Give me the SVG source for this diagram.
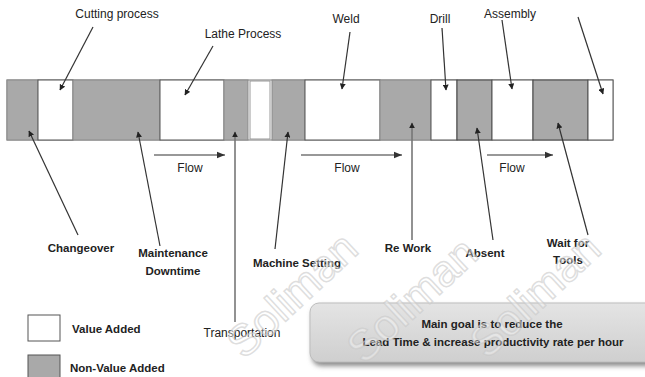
<svg xmlns="http://www.w3.org/2000/svg" width="645" height="377" viewBox="0 0 645 377">
<style>
.lbl{font-family:"Liberation Sans",Arial,sans-serif;font-size:12px;fill:#222}
.b{font-weight:bold;font-size:11.5px}
.va{fill:#ffffff;stroke:#555;stroke-width:1}
.val{fill:#ffffff;stroke:#999;stroke-width:1}
.nva{fill:#a9a9a9;stroke:#8a8a8a;stroke-width:1}
.nvd{fill:#a9a9a9;stroke:#444;stroke-width:1}
.ln{stroke:#333;stroke-width:1.2;fill:none}
.lg{stroke:#777;stroke-width:1.6;fill:none}
.wm{font-family:"Liberation Sans",Arial,sans-serif;font-size:44px;fill:#ffffff;fill-opacity:0.35;stroke:#c8c8c8;stroke-opacity:0.6;stroke-width:1.5}
</style>
<defs>
<marker id="ah" viewBox="0 0 10 10" refX="9" refY="5" markerWidth="6" markerHeight="6" markerUnits="userSpaceOnUse" orient="auto">
<path d="M0,0 L10,5 L0,10 z" fill="#222"/>
</marker>
<marker id="fa" viewBox="0 0 10 10" refX="10" refY="5" markerWidth="8" markerHeight="8" markerUnits="userSpaceOnUse" orient="auto">
<path d="M0,1 L10,5 L0,9 z" fill="#333"/>
</marker>
<linearGradient id="bg" x1="0" y1="0" x2="0" y2="1">
<stop offset="0" stop-color="#e4e4e4"/>
<stop offset="1" stop-color="#cfcfcf"/>
</linearGradient>
<filter id="sh" x="-10%" y="-20%" width="120%" height="150%">
<feGaussianBlur stdDeviation="2.5"/>
</filter>
</defs>

<g id="bar">
<rect x="7" y="80" width="606" height="60" fill="#fff" stroke="#777" stroke-width="1"/>
<rect class="nva" x="7" y="80" width="31" height="60"/>
<rect class="va" x="38" y="80" width="35" height="60"/>
<rect class="nva" x="73" y="80" width="87" height="60"/>
<rect class="va" x="160" y="80" width="64" height="60"/>
<rect class="nva" x="224" y="80" width="24" height="60"/>
<rect class="val" x="250" y="81" width="20" height="58"/>
<rect class="nva" x="272" y="80" width="33" height="60"/>
<rect class="va" x="305" y="80" width="75" height="60"/>
<rect class="nva" x="380" y="80" width="51" height="60"/>
<rect class="va" x="431" y="80" width="26" height="60"/>
<rect class="nvd" x="457" y="80" width="35" height="60"/>
<rect class="va" x="492" y="80" width="41" height="60"/>
<rect class="nvd" x="533" y="80" width="55" height="60"/>
<rect class="va" x="588" y="80" width="25" height="60"/>
</g>

<g id="connectors">
<line class="ln" x1="93" y1="27" x2="60" y2="90" marker-end="url(#ah)"/>
<line class="ln" x1="213" y1="46" x2="185" y2="95" marker-end="url(#ah)"/>
<line class="ln" x1="350" y1="32" x2="342" y2="89" marker-end="url(#ah)"/>
<line class="ln" x1="442" y1="28" x2="446" y2="90" marker-end="url(#ah)"/>
<line class="ln" x1="502" y1="20" x2="512" y2="89" marker-end="url(#ah)"/>
<line class="ln" x1="578" y1="17" x2="603" y2="94" marker-end="url(#ah)"/>
<line class="ln" x1="78" y1="235" x2="29" y2="131" marker-end="url(#ah)"/>
<line class="ln" x1="160" y1="246" x2="138" y2="132" marker-end="url(#ah)"/>
<line class="lg" x1="235" y1="322" x2="235" y2="132" marker-end="url(#ah)"/>
<line class="ln" x1="275" y1="249" x2="288" y2="132" marker-end="url(#ah)"/>
<line class="lg" x1="412" y1="240" x2="412" y2="123" marker-end="url(#ah)"/>
<line class="ln" x1="493" y1="240" x2="477" y2="128" marker-end="url(#ah)"/>
<line class="ln" x1="588" y1="235" x2="558" y2="123" marker-end="url(#ah)"/>
<line class="ln" x1="154" y1="155" x2="225" y2="155" marker-end="url(#fa)"/>
<line class="ln" x1="301" y1="155" x2="402" y2="155" marker-end="url(#fa)"/>
<line class="ln" x1="487" y1="155" x2="553" y2="155" marker-end="url(#fa)"/>
</g>

<g id="top-labels">
<text class="lbl" x="117" y="18" text-anchor="middle">Cutting process</text>
<text class="lbl" x="243" y="38" text-anchor="middle">Lathe Process</text>
<text class="lbl" x="346" y="23" text-anchor="middle">Weld</text>
<text class="lbl" x="440" y="23" text-anchor="middle">Drill</text>
<text class="lbl" x="510" y="18" text-anchor="middle">Assembly</text>
</g>

<g id="flow-labels">
<text class="lbl" x="190" y="172" text-anchor="middle">Flow</text>
<text class="lbl" x="347" y="172" text-anchor="middle">Flow</text>
<text class="lbl" x="512" y="172" text-anchor="middle">Flow</text>
</g>

<g id="bottom-labels">
<text class="lbl b" x="81" y="252" text-anchor="middle">Changeover</text>
<text class="lbl b" x="173" y="257" text-anchor="middle">Maintenance</text>
<text class="lbl b" x="173" y="275" text-anchor="middle">Downtime</text>
<text class="lbl" x="242" y="337" text-anchor="middle">Transportation</text>
<text class="lbl b" x="297" y="267" text-anchor="middle">Machine Setting</text>
<text class="lbl b" x="408" y="252" text-anchor="middle">Re Work</text>
<text class="lbl b" x="485" y="257" text-anchor="middle">Absent</text>
<text class="lbl b" x="568" y="247" text-anchor="middle">Wait for</text>
<text class="lbl b" x="568" y="264" text-anchor="middle">Tools</text>
</g>

<g id="legend">
<rect x="28" y="315" width="32" height="26" fill="#fff" stroke="#555" stroke-width="1"/>
<text class="lbl b" x="72" y="333">Value Added</text>
<rect x="28" y="355" width="32" height="26" fill="#a9a9a9" stroke="#555" stroke-width="1"/>
<text class="lbl b" x="70" y="372">Non-Value Added</text>
</g>

<g id="goal">
<rect x="312" y="306" width="345" height="60" rx="9" fill="#8a8a8a" filter="url(#sh)"/>
<rect x="310" y="303" width="345" height="59" rx="9" fill="url(#bg)" stroke="#bdbdbd" stroke-width="1"/>
<text class="lbl b" x="492" y="328" text-anchor="middle">Main goal is to reduce the</text>
<text class="lbl b" x="493" y="346" text-anchor="middle">Lead Time &amp; increase productivity rate per hour</text>
</g>

<g id="watermarks">
<text class="wm" x="292" y="310" text-anchor="middle" transform="rotate(-43 292 295)">Soliman</text>
<text class="wm" x="412" y="315" text-anchor="middle" transform="rotate(-43 412 300)">Soliman</text>
<text class="wm" x="535" y="310" text-anchor="middle" transform="rotate(-43 535 295)">Soliman</text>
</g>
</svg>
